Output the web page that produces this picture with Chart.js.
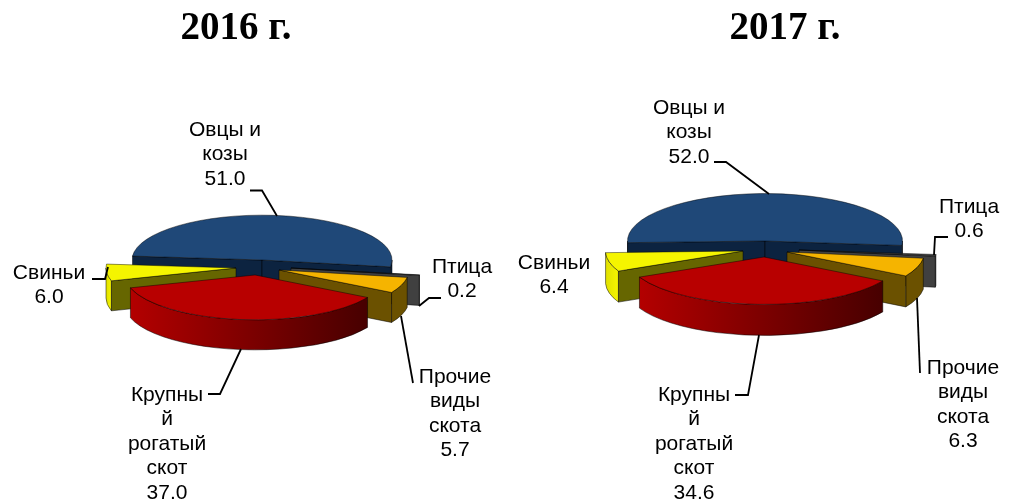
<!DOCTYPE html>
<html lang="ru">
<head>
<meta charset="utf-8">
<title>2016 г. / 2017 г.</title>
<script src="https://cdn.jsdelivr.net/npm/chart.js@4"></script>
<style>
  html, body { margin: 0; background: #fff; overflow: hidden; }
  canvas { position: absolute; left: 0; top: 0; }
</style>
</head>
<body>
<canvas id="pie2016" width="1009" height="501"></canvas>
<canvas id="pie2017" width="1009" height="501"></canvas>
<script>
// Data
var CATEGORIES = ["Овцы и козы", "Птица", "Прочие виды скота", "Крупный рогатый скот", "Свиньи"];
var VALUES_2016 = [51.0, 0.2, 5.7, 37.0, 6.0];
var VALUES_2017 = [52.0, 0.6, 6.3, 34.6, 6.4];
var LABEL_LINES = [["Овцы и", "козы"], ["Птица"], ["Прочие", "виды", "скота"], ["Крупны", "й", "рогатый", "скот"], ["Свиньи"]];

// Slice colours: top face, straight wall, curved wall (left, right)
var TOP_COLORS = ["#1f4878", "#404040", "#f5b400", "#b80000", "#f5f500"];
var WALL_COLORS = ["#0c2340", "#404040", "#6b5100", "#700000", "#666600"];
var CURVE_LEFT = ["#0c2340", "#404040", "#6b5100", "#b30000", "#e0e000"];
var CURVE_RIGHT = ["#0c2340", "#404040", "#6b5100", "#470000", "#f5f500"];

// Back to front, so nearer slices cover the ones behind
var DRAW_ORDER = [0, 1, 4, 2, 3];

var FLATTEN = 0.345;

function fmt(v) { return v.toFixed(1); }

function wallPath(ctx, x0, y0, x1, y1, depth) {
  ctx.beginPath();
  ctx.moveTo(x0, y0);
  ctx.lineTo(x1, y1);
  ctx.lineTo(x1, y1 + depth);
  ctx.lineTo(x0, y0 + depth);
  ctx.closePath();
  ctx.fill();
  ctx.stroke();
}

function drawWalls(ctx, arc, i, move, depth) {
  var cx = arc.x + move[0], cy = arc.y + move[1], r = arc.outerRadius;
  var a0 = arc.startAngle, a1 = arc.endAngle;
  ctx.save();
  ctx.lineWidth = 0.7;
  ctx.strokeStyle = "rgba(0,0,0,0.7)";

  // curved wall: only the part on the near half of the ellipse
  for (var k = 0; k < 3; k++) {
    var from = Math.max(a0, k * 2 * Math.PI);
    var to = Math.min(a1, k * 2 * Math.PI + Math.PI);
    if (to <= from) continue;
    var xa = cx + r * Math.cos(from), xb = cx + r * Math.cos(to);
    var g = ctx.createLinearGradient(Math.min(xa, xb), 0, Math.max(xa, xb), 0);
    g.addColorStop(0, CURVE_LEFT[i]);
    g.addColorStop(1, CURVE_RIGHT[i]);
    ctx.fillStyle = g;
    ctx.beginPath();
    ctx.ellipse(cx, cy, r, r * FLATTEN, 0, from, to, false);
    ctx.ellipse(cx, cy + depth, r, r * FLATTEN, 0, to, from, true);
    ctx.closePath();
    ctx.fill();
    ctx.stroke();
  }

  // straight walls that face the viewer
  ctx.fillStyle = WALL_COLORS[i];
  if (Math.cos(a0) < 0) {
    wallPath(ctx, cx, cy, cx + r * Math.cos(a0), cy + r * FLATTEN * Math.sin(a0), depth);
  }
  if (Math.cos(a1) > 0) {
    wallPath(ctx, cx, cy, cx + r * Math.cos(a1), cy + r * FLATTEN * Math.sin(a1), depth);
  }
  ctx.restore();
}

function drawLabels(ctx, cfg) {
  ctx.save();
  ctx.fillStyle = "#000";
  ctx.textAlign = "center";
  ctx.textBaseline = "alphabetic";
  ctx.font = "bold 39px 'Liberation Serif'";
  ctx.fillText(cfg.title, cfg.titleX, 39);

  ctx.font = "21px 'Liberation Sans'";
  cfg.values.forEach(function (v, i) {
    var p = cfg.labelPos[i];
    LABEL_LINES[i].concat(fmt(v)).forEach(function (txt, n) {
      ctx.fillText(txt, p[0], p[1] + n * 24.4);
    });
    var pts = cfg.leaders[i];
    if (!pts.length) return;
    ctx.beginPath();
    ctx.moveTo(pts[0][0], pts[0][1]);
    for (var k = 1; k < pts.length; k++) ctx.lineTo(pts[k][0], pts[k][1]);
    ctx.lineWidth = 1.8;
    ctx.strokeStyle = "#000";
    ctx.stroke();
  });
  ctx.restore();
}

function makePie(id, cfg) {
  return new Chart(document.getElementById(id), {
    type: "pie",
    data: {
      labels: CATEGORIES,
      datasets: [{ data: cfg.values, backgroundColor: TOP_COLORS, borderColor: "rgba(0,0,0,0.75)", borderWidth: 0.9 }]
    },
    options: {
      responsive: false,
      animation: false,
      rotation: cfg.rotation,
      radius: cfg.radius,
      layout: { padding: cfg.padding },
      plugins: { legend: { display: false }, tooltip: { enabled: false } },
      events: []
    },
    plugins: [{
      id: "pie3d",
      beforeDatasetsDraw: function (chart) {
        var ctx = chart.ctx;
        var arcs = chart.getDatasetMeta(0).data;
        DRAW_ORDER.forEach(function (i) {
          var arc = arcs[i], move = cfg.moves[i];
          drawWalls(ctx, arc, i, move, cfg.depth);
          ctx.save();
          ctx.translate(arc.x + move[0], arc.y + move[1]);
          ctx.scale(1, FLATTEN);
          ctx.translate(-arc.x, -arc.y);
          arc.draw(ctx);
          ctx.restore();
        });
        return false;
      },
      afterDraw: function (chart) { drawLabels(chart.ctx, cfg); }
    }]
  });
}

makePie("pie2016", {
  title: "2016 г.", titleX: 236,
  values: VALUES_2016,
  rotation: 275, radius: 130, depth: 30,
  padding: { left: 0, right: 485, top: 19, bottom: 0 },
  moves: [[0, 0], [29, 8], [17, 10], [-7, 15], [-26, 8]],
  labelPos: [[225, 136], [462, 273], [455, 383], [167, 401], [49, 279]],
  leaders: [
    [[250, 190.5], [262, 190.5], [277, 216]],
    [[419, 306], [429, 298], [441, 298]],
    [[401, 316], [413, 383]],
    [[208, 394], [220, 394], [241, 349]],
    [[92, 279], [105, 279], [108, 267]]
  ]
});

makePie("pie2017", {
  title: "2017 г.", titleX: 785,
  values: VALUES_2017,
  rotation: 268, radius: 137.5, depth: 31,
  padding: { left: 521, right: 0, top: 0, bottom: 19 },
  moves: [[0, 0], [34, 9], [22, 11], [-1, 16], [-22, 10]],
  labelPos: [[689, 114], [969, 213], [963, 374], [694, 401], [554, 269]],
  leaders: [
    [[714, 162], [726, 162], [769, 194]],
    [[948, 237], [935, 237], [934, 255]],
    [[917, 298], [920, 373]],
    [[735, 395], [748, 395], [759, 335]],
    []
  ]
});
</script>
</body>
</html>
